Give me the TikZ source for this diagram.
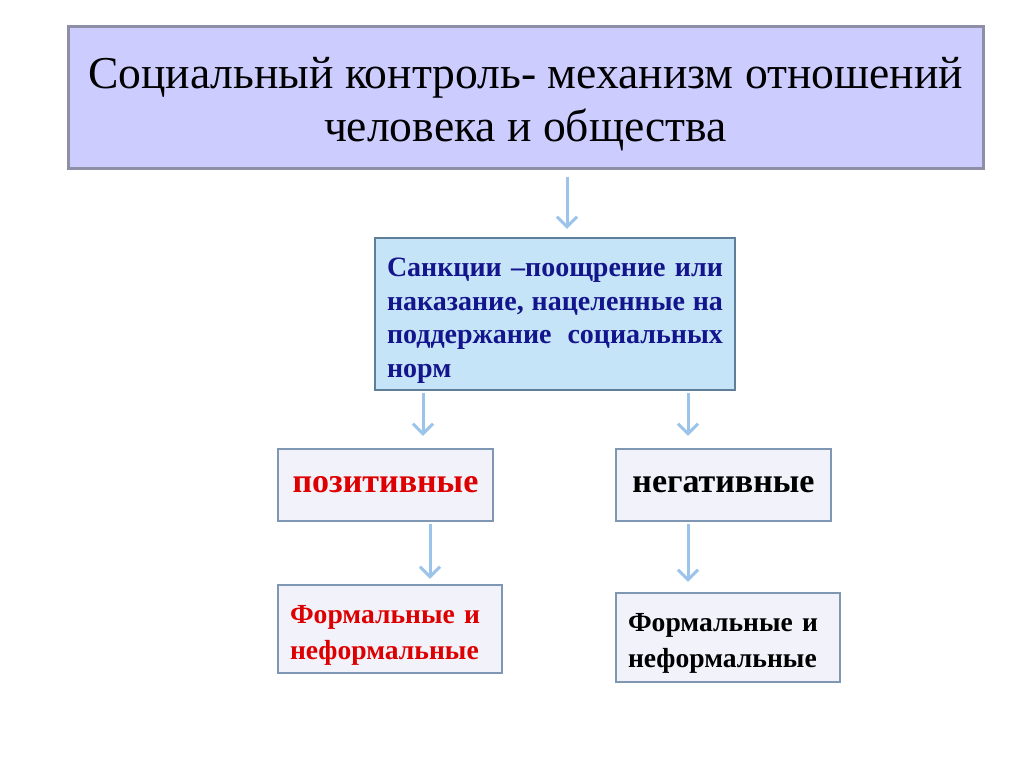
\documentclass[tikz,border=0pt]{standalone}
\usepackage{fontspec}
\setmainfont{Liberation Serif}
\usepackage{xcolor}
\usetikzlibrary{positioning,arrows.meta}

\definecolor{topfill}{HTML}{CCCCFF}
\definecolor{topline}{HTML}{8E8EA6}
\definecolor{midfill}{HTML}{C6E4F8}
\definecolor{midline}{HTML}{5F7E98}
\definecolor{boxfill}{HTML}{F2F2FA}
\definecolor{boxline}{HTML}{7F97B2}
\definecolor{arrowblue}{HTML}{9CC4EA}
\definecolor{textblue}{HTML}{14148C}
\definecolor{textred}{HTML}{DD0000}

\begin{document}
\begin{tikzpicture}[
    x=0.5pt, y=-0.5pt,
    box/.style={
        draw=boxline,
        fill=boxfill,
        line width=1.2pt,
        rectangle,
        inner sep=0pt,
        font=\bfseries
    },
    arrow/.style={
        -{Straight Barb[length=5pt,width=10pt,line width=1.5pt]},
        draw=arrowblue,
        line width=1.5pt
    }
]

\useasboundingbox (0,0) rectangle (1024,768);

\node[draw=topline, fill=topfill, line width=1.5pt, minimum width=457.5pt,
      minimum height=71pt, inner sep=0pt, align=center,
      font=\fontsize{22.8}{26.5}\selectfont] (top) at (525.5,97)
    {\rule{0pt}{23pt}Социальный контроль- механизм отношений\\человека и общества};

\node[box, draw=midline, fill=midfill, minimum width=180pt, minimum height=76pt,
      text width=168pt, align=justify, text=textblue,
      font=\fontsize{14}{16.7}\selectfont\bfseries] (mid) at (555,314)
    {\rule{0pt}{16pt}Санкции –поощрение или наказание, нацеленные на поддержание социальных норм};

\node[box, minimum width=107.5pt, minimum height=36pt, text=textred,
      font=\fontsize{17}{19}\selectfont\bfseries] (pos) at (385.5,485) {позитивные};
\node[box, minimum width=107.5pt, minimum height=36pt,
      font=\fontsize{17}{19}\selectfont\bfseries] (neg) at (723.5,485) {негативные};

\node[box, minimum width=112pt, minimum height=44pt, text width=100pt, align=left,
      text=textred, font=\fontsize{13.8}{18}\selectfont\bfseries] (posf) at (390,629)
    {\rule{0pt}{15pt}Формальные и неформальные};
\node[box, minimum width=112pt, minimum height=44.5pt, text width=100pt, align=left,
      font=\fontsize{13.8}{18}\selectfont\bfseries] (negf) at (728,637.5)
    {\rule{0pt}{15pt}Формальные и неформальные};

\draw[arrow, shorten <=3.5pt, shorten >=4pt] (top.south -| 567,0) -- (mid.north -| 567,0);
\draw[arrow, shorten <=1pt, shorten >=6pt] (mid.south -| 423,0) -- (pos.north -| 423,0);
\draw[arrow, shorten <=1pt, shorten >=6pt] (mid.south -| 688,0) -- (neg.north -| 688,0);
\draw[arrow, shorten <=1pt, shorten >=2.5pt] (pos.south -| 430,0) -- (posf.north -| 430,0);
\draw[arrow, shorten <=1pt, shorten >=5pt] (neg.south -| 688,0) -- (negf.north -| 688,0);

\end{tikzpicture}
\end{document}
